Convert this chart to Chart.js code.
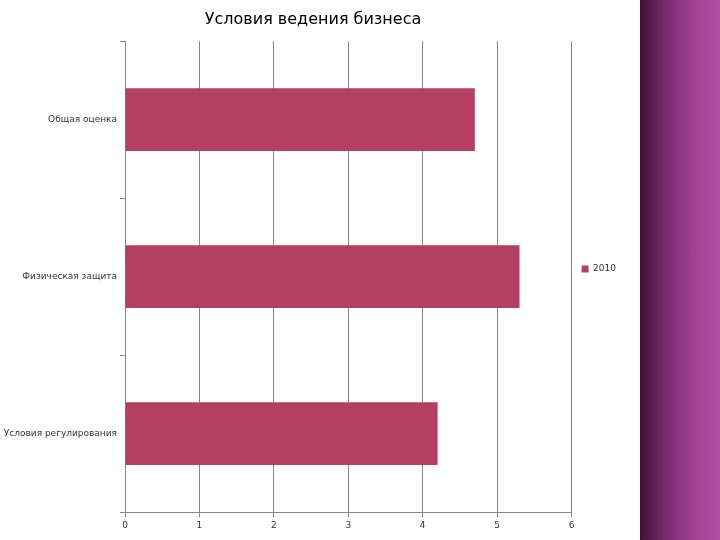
<!DOCTYPE html>
<html>
<head>
<meta charset="utf-8">
<script src="https://cdn.jsdelivr.net/npm/chart.js@4"></script>
<style>
  body { margin: 0; width: 720px; height: 540px; background: #fff; position: relative; overflow: hidden; }
  #wrap { position: absolute; left: 0; top: 0; width: 640px; height: 540px; }
  #strip { position: absolute; left: 640px; top: 0; width: 80px; height: 540px;
    background: linear-gradient(to right, #3a0f33 0, #4a1440 5px, #7a2a6e 25px, #a54598 60px, #b24ea6 80px); }
</style>
</head>
<body>
<div id="wrap"><canvas id="chart" width="640" height="540"></canvas></div>
<div id="strip"></div>
<script>
const categories = ['Общая оценка', 'Физическая защита', 'Условия регулирования'];
const values2010 = [4.7, 5.3, 4.2];
const seriesName = '2010';

new Chart(document.getElementById('chart'), {
    type: 'bar',
    data: {
        labels: categories,
        datasets: [{
            label: seriesName,
            data: values2010,
            backgroundColor: '#b33f63',
            barPercentage: 0.4,
            categoryPercentage: 1
        }]
    },
    options: {
        indexAxis: 'y',
        responsive: false,
        animation: false,
        layout: { padding: { top: 4, right: 14, bottom: 6, left: 0 } },
        plugins: {
            title: {
                display: true,
                text: 'Условия ведения бизнеса',
                color: '#000',
                font: { family: 'DejaVu Sans', size: 16, weight: 'normal' },
                padding: { top: 6, bottom: 12 }
            },
            legend: {
                position: 'right',
                labels: { boxWidth: 7, boxHeight: 7, color: '#333', font: { family: 'DejaVu Sans', size: 9 } }
            },
            tooltip: { enabled: false }
        },
        scales: {
            x: {
                min: 0, max: 6,
                ticks: { stepSize: 1, color: '#333', font: { family: 'DejaVu Sans', size: 9 } },
                grid: { color: '#888', tickLength: 5 },
                border: { color: '#888' }
            },
            y: {
                afterFit: (scale) => { scale.width = 125; },
                ticks: { color: '#333', font: { family: 'DejaVu Sans', size: 9 } },
                grid: { offset: true, drawOnChartArea: false, color: '#888', tickLength: 5 },
                border: { color: '#888' }
            }
        }
    }
});
</script>
</body>
</html>
